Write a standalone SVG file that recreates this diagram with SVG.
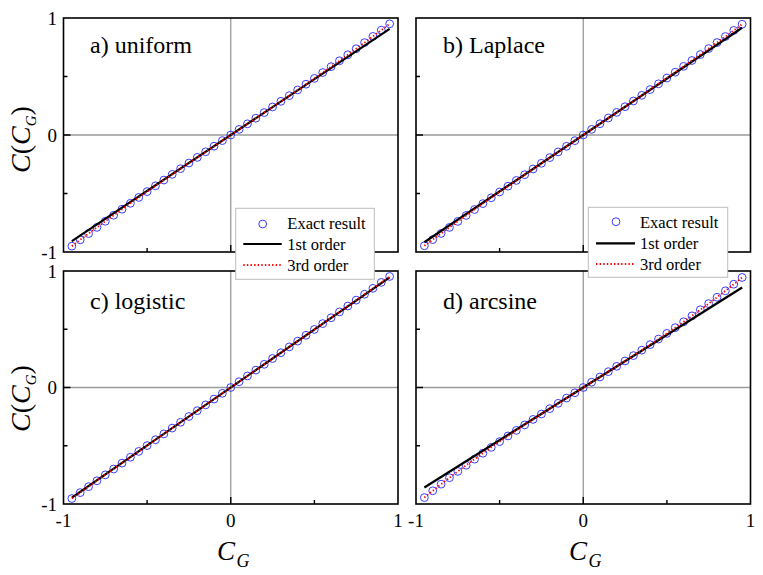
<svg xmlns="http://www.w3.org/2000/svg" xmlns:xlink="http://www.w3.org/1999/xlink" width="763" height="575" viewBox="0 0 763 575">
<style>
text{font-family:"Liberation Serif","Times New Roman",serif;fill:#000}
.frame{fill:none;stroke:#000;stroke-width:1.6}
.grid{stroke:#9a9a9a;stroke-width:1.3}
.tick{stroke:#000;stroke-width:1.4}
.tl{font-size:19px}
.pl{font-size:24px}
.lg{font-size:16.5px}
.ax{font-size:27px}
.yt{font-size:28px}
.it{font-style:italic}
.pts{fill:none;stroke:none;marker-start:url(#mc);marker-mid:url(#mc);marker-end:url(#mc)}
.l1{stroke:#000;stroke-width:2.2;fill:none}
.l3{stroke:#ff0000;stroke-width:1.8;stroke-dasharray:1.4 2.2;fill:none}
.leg{fill:#fff;stroke:#bdbdbd;stroke-width:1}
</style>
<defs>
<marker id="mc" markerUnits="userSpaceOnUse" markerWidth="10" markerHeight="10" refX="5" refY="5" viewBox="0 0 10 10" overflow="visible"><circle cx="5" cy="5" r="3.9" fill="none" stroke="#3a3aff" stroke-width="1"/></marker>
<path id="fa" d="M-158.89,111.16 L-150.53,104.83 -142.16,98.57 -133.80,92.38 -125.44,86.27 -117.08,80.22 -108.71,74.23 -100.35,68.30 -91.99,62.43 -83.63,56.60 -75.26,50.81 -66.90,45.07 -58.54,39.36 -50.18,33.68 -41.81,28.03 -33.45,22.39 -25.09,16.78 -16.73,11.18 -8.36,5.59 0,0 8.36,-5.59 16.73,-11.18 25.09,-16.78 33.45,-22.39 41.81,-28.03 50.18,-33.68 58.54,-39.36 66.90,-45.07 75.26,-50.81 83.63,-56.60 91.99,-62.43 100.35,-68.30 108.71,-74.23 117.08,-80.22 125.44,-86.27 133.80,-92.38 142.16,-98.57 150.53,-104.83 158.89,-111.16"/>
<path id="fb" d="M-158.89,110.77 L-150.53,104.60 -142.16,98.48 -133.80,92.42 -125.44,86.41 -117.08,80.44 -108.71,74.51 -100.35,68.63 -91.99,62.78 -83.63,56.96 -75.26,51.18 -66.90,45.42 -58.54,39.69 -50.18,33.98 -41.81,28.29 -33.45,22.61 -25.09,16.95 -16.73,11.29 -8.36,5.65 0,0 8.36,-5.65 16.73,-11.29 25.09,-16.95 33.45,-22.61 41.81,-28.29 50.18,-33.98 58.54,-39.69 66.90,-45.42 75.26,-51.18 83.63,-56.96 91.99,-62.78 100.35,-68.63 108.71,-74.51 117.08,-80.44 125.44,-86.41 133.80,-92.42 142.16,-98.48 150.53,-104.60 158.89,-110.77"/>
<path id="fc" d="M-158.89,111.04 L-150.53,105.10 -142.16,99.17 -133.80,93.26 -125.44,87.37 -117.08,81.48 -108.71,75.61 -100.35,69.75 -91.99,63.90 -83.63,58.06 -75.26,52.23 -66.90,46.41 -58.54,40.59 -50.18,34.78 -41.81,28.98 -33.45,23.18 -25.09,17.38 -16.73,11.58 -8.36,5.79 0,0 8.36,-5.79 16.73,-11.58 25.09,-17.38 33.45,-23.18 41.81,-28.98 50.18,-34.78 58.54,-40.59 66.90,-46.41 75.26,-52.23 83.63,-58.06 91.99,-63.90 100.35,-69.75 108.71,-75.61 117.08,-81.48 125.44,-87.37 133.80,-93.26 142.16,-99.17 150.53,-105.10 158.89,-111.04"/>
<path id="fd" d="M-158.89,110.07 L-150.53,103.30 -142.16,96.69 -133.80,90.23 -125.44,83.91 -117.08,77.72 -108.71,71.66 -100.35,65.71 -91.99,59.86 -83.63,54.11 -75.26,48.45 -66.90,42.87 -58.54,37.36 -50.18,31.91 -41.81,26.51 -33.45,21.15 -25.09,15.83 -16.73,10.54 -8.36,5.27 0,0 8.36,-5.27 16.73,-10.54 25.09,-15.83 33.45,-21.15 41.81,-26.51 50.18,-31.91 58.54,-37.36 66.90,-42.87 75.26,-48.45 83.63,-54.11 91.99,-59.86 100.35,-65.71 108.71,-71.66 117.08,-77.72 125.44,-83.91 133.80,-90.23 142.16,-96.69 150.53,-103.30 158.89,-110.07"/>
</defs>
<rect width="763" height="575" fill="#fff"/>

<g id="panel-a">
<line class="grid" x1="230.75" y1="18" x2="230.75" y2="252"/>
<line class="grid" x1="63.5" y1="135" x2="398" y2="135"/>
<path class="tick" d="M63.5,76.5h4M63.5,193.5h4M63.5,135h7M147.1,252v-4M314.4,252v-4M230.75,252v-7"/>
<g transform="translate(230.75,135)">
<use xlink:href="#fa" href="#fa" class="pts"/>
<line class="l1" x1="-158.89" y1="106.15" x2="158.89" y2="-106.15"/>
<use xlink:href="#fa" href="#fa" class="l3"/>
</g>
<rect class="frame" x="63.5" y="18" width="334.5" height="234"/>
<text class="pl" x="90" y="53">a) uniform</text>
</g>

<g id="panel-b">
<line class="grid" x1="583.25" y1="18" x2="583.25" y2="252"/>
<line class="grid" x1="416" y1="135" x2="750.5" y2="135"/>
<path class="tick" d="M416,76.5h4M416,193.5h4M416,135h7M499.6,252v-4M666.9,252v-4M583.25,252v-7"/>
<g transform="translate(583.25,135)">
<use xlink:href="#fb" href="#fb" class="pts"/>
<line class="l1" x1="-158.89" y1="107.26" x2="158.89" y2="-107.26"/>
<use xlink:href="#fb" href="#fb" class="l3"/>
</g>
<rect class="frame" x="416" y="18" width="334.5" height="234"/>
<text class="pl" x="443" y="53">b) Laplace</text>
</g>

<g id="panel-c">
<line class="grid" x1="230.75" y1="271" x2="230.75" y2="504"/>
<line class="grid" x1="63.5" y1="387.5" x2="398" y2="387.5"/>
<path class="tick" d="M63.5,329.25h4M63.5,445.75h4M63.5,387.5h7M147.1,504v-4M314.4,504v-4M230.75,504v-7"/>
<g transform="translate(230.75,387.5)">
<use xlink:href="#fc" href="#fc" class="pts"/>
<line class="l1" x1="-158.89" y1="110.04" x2="158.89" y2="-110.04"/>
<use xlink:href="#fc" href="#fc" class="l3"/>
</g>
<rect class="frame" x="63.5" y="271" width="334.5" height="233"/>
<text class="pl" x="90" y="309">c) logistic</text>
</g>

<g id="panel-d">
<line class="grid" x1="583.25" y1="271" x2="583.25" y2="504"/>
<line class="grid" x1="416" y1="387.5" x2="750.5" y2="387.5"/>
<path class="tick" d="M416,329.25h4M416,445.75h4M416,387.5h7M499.6,504v-4M666.9,504v-4M583.25,504v-7"/>
<g transform="translate(583.25,387.5)">
<use xlink:href="#fd" href="#fd" class="pts"/>
<line class="l1" x1="-158.89" y1="100.04" x2="158.89" y2="-100.04"/>
<use xlink:href="#fd" href="#fd" class="l3"/>
</g>
<rect class="frame" x="416" y="271" width="334.5" height="233"/>
<text class="pl" x="443" y="309">d) arcsine</text>
</g>

<g id="legend-a">
<rect class="leg" x="235.7" y="208.3" width="138.6" height="71"/>
<circle cx="262.7" cy="224" r="3.9" fill="none" stroke="#3a3aff" stroke-width="1"/>
<text class="lg" x="287.3" y="228.5">Exact result</text>
<line class="l1" x1="243.3" y1="244" x2="281.7" y2="244"/>
<text class="lg" x="287.3" y="249.5">1st order</text>
<line class="l3" x1="243.3" y1="265" x2="281.7" y2="265"/>
<text class="lg" x="287.3" y="270.5">3rd order</text>
</g>

<g id="legend-b">
<rect class="leg" x="588.3" y="207.3" width="139.4" height="70"/>
<circle cx="616" cy="221.7" r="3.9" fill="none" stroke="#3a3aff" stroke-width="1"/>
<text class="lg" x="640" y="227.5">Exact result</text>
<line class="l1" x1="596" y1="243.3" x2="635" y2="243.3"/>
<text class="lg" x="640" y="248.7">1st order</text>
<line class="l3" x1="596" y1="264" x2="635" y2="264"/>
<text class="lg" x="640" y="269.5">3rd order</text>
</g>

<g id="axis-labels">
<text class="tl" text-anchor="end" x="57" y="25">1</text>
<text class="tl" text-anchor="end" x="57" y="141.5">0</text>
<text class="tl" text-anchor="end" x="57" y="258.5">-1</text>
<text class="tl" text-anchor="end" x="57" y="277.5">1</text>
<text class="tl" text-anchor="end" x="57" y="394">0</text>
<text class="tl" text-anchor="end" x="57" y="510.5">-1</text>
<text class="tl" text-anchor="middle" x="63.5" y="527">-1</text>
<text class="tl" text-anchor="middle" x="230.75" y="527">0</text>
<text class="tl" text-anchor="middle" x="398" y="527">1</text>
<text class="tl" text-anchor="middle" x="416" y="527">-1</text>
<text class="tl" text-anchor="middle" x="583.25" y="527">0</text>
<text class="tl" text-anchor="middle" x="750.5" y="527">1</text>
<text class="ax it" x="217" y="560">C</text><text class="it" font-size="18" x="236.5" y="567">G</text>
<text class="ax it" x="569" y="560">C</text><text class="it" font-size="18" x="588.5" y="567">G</text>
<text class="yt" transform="translate(29.5,173) rotate(-90)"><tspan class="it">C</tspan>(<tspan class="it">C</tspan><tspan class="it" font-size="15" dy="6">G</tspan><tspan dy="-6">)</tspan></text>
<text class="yt" transform="translate(29.5,432) rotate(-90)"><tspan class="it">C</tspan>(<tspan class="it">C</tspan><tspan class="it" font-size="15" dy="6">G</tspan><tspan dy="-6">)</tspan></text>
</g>
</svg>
